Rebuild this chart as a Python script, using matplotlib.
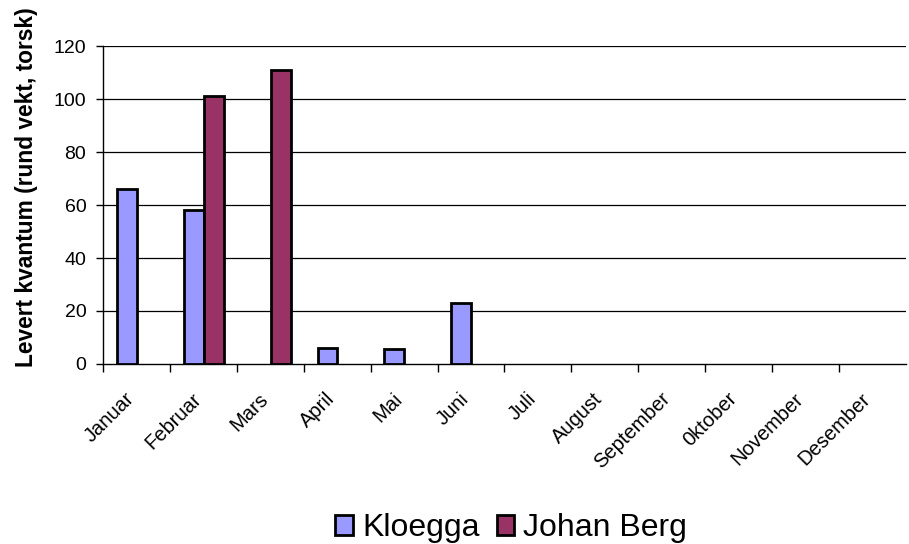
import matplotlib
matplotlib.use("Agg")
import matplotlib.pyplot as plt
import matplotlib.transforms as mtransforms
import numpy as np
from matplotlib.patches import Patch

months = ["Januar", "Februar", "Mars", "April", "Mai", "Juni", "Juli",
          "August", "September", "0ktober", "November", "Desember"]
kloegga = [66, 58, 0, 6, 5.5, 23, 0, 0, 0, 0, 0, 0]
johan_berg = [0, 101, 111, 0, 0, 0, 0, 0, 0, 0, 0, 0]
yticks = [0, 20, 40, 60, 80, 100, 120]

plt.rcParams['font.family'] = ['Liberation Sans', 'DejaVu Sans']

fig = plt.figure(figsize=(9.09, 5.44), dpi=100)
ax = fig.add_axes([0.1133, 0.3309, 0.8834, 0.5845])

x = np.arange(len(months))
w = 0.298
c1 = '#9999FF'
c2 = '#993366'
for xi, v in zip(x, kloegga):
    if v > 0:
        ax.bar(xi - 0.145, v, width=w, color=c1, edgecolor='black', linewidth=2, zorder=3)
for xi, v in zip(x, johan_berg):
    if v > 0:
        ax.bar(xi + 0.155, v, width=w, color=c2, edgecolor='black', linewidth=2, zorder=3)

ax.set_xlim(-0.5, len(months) - 0.5)
ax.set_ylim(0, 120)
ax.set_yticks(yticks)
ax.set_yticklabels([str(t) for t in yticks], fontsize=14)
for t in yticks[1:]:
    ax.axhline(t, color='black', linewidth=0.9, zorder=1)

ax.set_xticks(x - 0.5, minor=False)
ax.set_xticklabels([])
ax.set_xticks(x, minor=True)
ax.set_xticklabels(months, minor=True, rotation=45, ha='right', va='center',
                   rotation_mode='anchor', fontsize=14.5)
ax.tick_params(axis='x', which='minor', length=0, pad=23)
ax.tick_params(axis='x', which='major', length=6, width=1, direction='out')
ax.tick_params(axis='y', length=5, width=1, direction='out', pad=7)
offset = mtransforms.ScaledTranslation(-5 / 100, 0, fig.dpi_scale_trans)
for lbl in ax.get_xticklabels(minor=True):
    lbl.set_transform(lbl.get_transform() + offset)

for s in ['top', 'right']:
    ax.spines[s].set_visible(False)
ax.spines['left'].set_linewidth(1)
ax.spines['bottom'].set_linewidth(1)

fig.text(27 / 909, 1 - 187 / 544, "Levert kvantum (rund vekt, torsk)", rotation=90,
         ha='center', va='center', fontsize=16.4, fontweight='bold')

handles = [Patch(facecolor=c1, edgecolor='black', linewidth=2, label='Kloegga'),
           Patch(facecolor=c2, edgecolor='black', linewidth=2, label='Johan Berg')]
fig.legend(handles=handles, loc='center', bbox_to_anchor=(0.5625, 0.029), ncol=2,
           frameon=False, fontsize=23, handlelength=0.56, handleheight=0.56,
           handletextpad=0.28, columnspacing=0.53, borderpad=0, borderaxespad=0)

fig.savefig("out.png", dpi=100)
